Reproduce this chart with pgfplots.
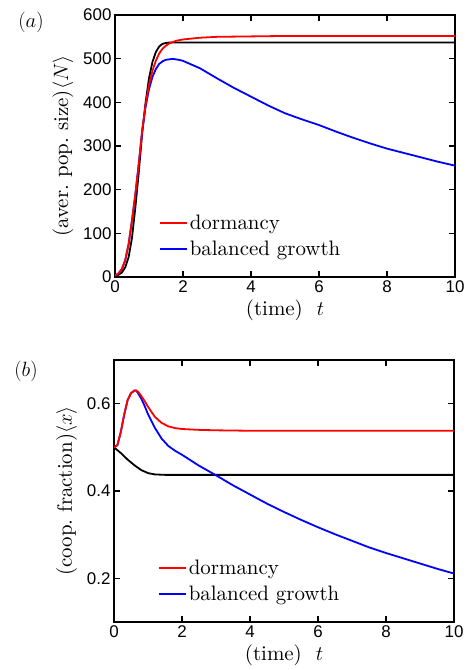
\documentclass[border=0pt]{standalone}
\usepackage{fontspec}
\setmainfont{lmroman10-regular.otf}[ItalicFont=lmroman10-italic.otf, BoldFont=lmroman10-bold.otf]
\setsansfont{Liberation Sans}
\usepackage{pgfplots}
\pgfplotsset{compat=1.18}

\pgfplotsset{panel/.style={
    width=340bp, height=262bp, scale only axis,
    xmin=0, xmax=10, xtick={0,2,...,10},
    axis line style={line width=2bp},
    tick style={line width=1.4bp, black},
    major tick length=6bp,
    tick align=inside,
    tick label style={font=\fontsize{17}{19}\selectfont\sffamily},
    /pgf/number format/assume math mode=true,
    label style={font=\fontsize{21}{25}\selectfont},
    ylabel shift=3bp,
    legend style={draw=none, fill=none, font=\fontsize{21}{25}\selectfont,
      at={(rel axis cs:0.12,0.06)}, anchor=south west, row sep=6bp},
    legend cell align=left,
    legend image code/.code={\draw[##1] (0bp,0bp) -- (27bp,0bp);},
    every axis plot/.append style={line width=1.8bp, no marks},
}}

\begin{document}
\begin{tikzpicture}
\path[use as bounding box] (-115bp,-393bp) rectangle (354bp,277bp);

% (a) average population size
\begin{axis}[panel,
  ymin=0, ymax=600, ytick={0,100,...,600},
  xlabel={(time)\ \ $t$},
  ylabel={(aver.\ pop.\ size)$\langle N\rangle$},
]
\addlegendimage{red, line width=1.8bp}
\addlegendentry{dormancy}
\addlegendimage{blue, line width=1.8bp}
\addlegendentry{balanced growth}
\addplot[black, forget plot] coordinates {
  (0,2) (0.1,5) (0.2,10) (0.3,22) (0.4,45) (0.5,90) (0.6,160) (0.7,240)
  (0.8,330) (0.9,400) (1.0,455) (1.1,492) (1.2,515) (1.3,528) (1.4,534)
  (1.5,536) (1.6,537) (2,537) (4,537) (10,537)
};
\addplot[blue, forget plot] coordinates {
  (0,3) (0.1,8) (0.2,18) (0.3,38) (0.4,75) (0.5,130) (0.6,190) (0.7,260)
  (0.8,335) (0.9,390) (1.0,430) (1.1,458) (1.2,476) (1.3,488) (1.4,494)
  (1.5,497.5) (1.7,499.5) (1.9,497) (2.0,495) (2.5,478) (3.0,455) (3.5,433)
  (4.0,413) (4.5,393) (5.0,375) (5.5,361) (6.0,348) (6.5,333) (7.0,319)
  (7.5,306) (8.0,294) (8.5,284) (9.0,274) (9.5,264) (10,255)
};
\addplot[red, forget plot] coordinates {
  (0,3) (0.1,8) (0.2,18) (0.3,38) (0.4,75) (0.5,130) (0.6,190) (0.7,260)
  (0.8,335) (0.9,395) (1.0,440) (1.1,472) (1.2,495) (1.3,512) (1.4,523)
  (1.5,530) (1.6,535) (1.7,538) (1.8,541) (2.0,544) (2.5,548) (3.0,550)
  (4,551) (5,552) (10,552)
};
\end{axis}
\node[font=\fontsize{21}{25}\selectfont] at (-84bp,255bp) {$(a)$};

% (b) cooperator fraction
\begin{axis}[panel, at={(-1bp,-345bp)}, anchor=south west,
  ymin=0.1, ymax=0.7, ytick={0.2,0.4,0.6},
  xlabel={(time)\ \ $t$},
  ylabel={(coop.\ fraction)$\langle x\rangle$},
]
\addlegendimage{red, line width=1.8bp}
\addlegendentry{dormancy}
\addlegendimage{blue, line width=1.8bp}
\addlegendentry{balanced growth}
\addplot[black, forget plot] coordinates {
  (0,0.5) (0.2,0.487) (0.4,0.472) (0.6,0.459) (0.8,0.448) (1.0,0.441)
  (1.2,0.438) (1.5,0.437) (3,0.437) (10,0.437)
};
\addplot[blue, forget plot] coordinates {
  (0,0.5) (0.1,0.505) (0.2,0.535) (0.3,0.575) (0.4,0.608) (0.5,0.624)
  (0.6,0.63) (0.65,0.63) (0.7,0.625) (0.8,0.612) (0.9,0.595) (1.0,0.576)
  (1.2,0.545) (1.4,0.52) (1.6,0.503) (1.8,0.492) (2.0,0.483) (2.5,0.458)
  (3.0,0.436) (3.5,0.413) (4.0,0.392) (4.5,0.371) (5.0,0.352) (5.5,0.334)
  (6.0,0.317) (6.5,0.301) (7.0,0.286) (7.5,0.271) (8.0,0.258) (8.5,0.246)
  (9.0,0.234) (9.5,0.222) (10,0.211)
};
\addplot[red, forget plot] coordinates {
  (0,0.5) (0.1,0.505) (0.2,0.535) (0.3,0.575) (0.4,0.608) (0.5,0.624)
  (0.6,0.63) (0.65,0.63) (0.7,0.628) (0.8,0.618) (0.9,0.606) (1.0,0.593)
  (1.2,0.570) (1.4,0.556) (1.6,0.548) (1.8,0.544) (2.0,0.542) (2.5,0.540)
  (3,0.539) (4,0.538) (10,0.538)
};
\end{axis}
\node[font=\fontsize{21}{25}\selectfont] at (-89bp,-94bp) {$(b)$};
\end{tikzpicture}
\end{document}
